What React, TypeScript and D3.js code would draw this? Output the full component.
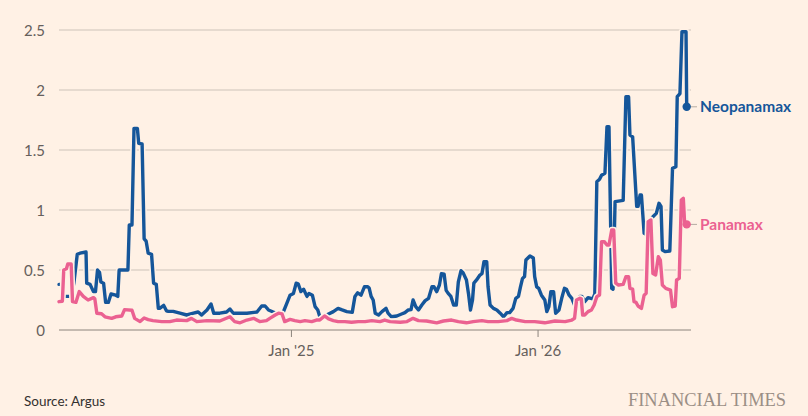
import * as d3 from "d3";

// days counted from the first observation, 23 Jan 2024
const startDate = new Date(2024, 0, 23);
const lastDay = 929;

const neoDays = [
  0, 4, 6, 18, 22, 27, 31, 40, 41, 46, 51, 54, 57, 60, 62, 66, 69, 73, 77, 84,
  87, 89, 102, 104, 108, 111, 116, 118, 123, 126, 129, 132, 137, 140, 144, 147,
  149, 155, 159, 162, 169, 179, 189, 199, 206, 211, 219, 225, 229, 238, 248,
  253, 258, 268, 278, 293, 300, 305, 310, 317, 322, 330, 332, 337, 342, 347,
  351, 354, 358, 362, 367, 370, 375, 379, 383, 386, 392, 399, 406, 413, 419,
  426, 434, 438, 442, 447, 452, 457, 459, 462, 465, 468, 473, 478, 484, 487,
  492, 500, 507, 512, 517, 521, 524, 528, 532, 537, 542, 547, 552, 555, 559,
  563, 566, 570, 573, 576, 580, 584, 588, 591, 595, 598, 603, 606, 609, 612,
  614, 618, 623, 626, 629, 633, 635, 638, 643, 648, 653, 658, 663, 667, 672,
  676, 680, 683, 686, 689, 691, 697, 702, 704, 707, 710, 714, 719, 722, 725,
  728, 732, 735, 740, 744, 748, 751, 755, 759, 763, 767, 771, 774, 778, 783,
  790, 793, 796, 800, 803, 808, 811, 814, 818, 820, 823, 835, 839, 843, 845,
  849, 855, 857, 860, 862, 866, 868, 872, 876, 879, 884, 888, 891, 893, 897,
  904, 908, 913, 915, 919, 922, 928, 929,
];
const neoValues = [
  0.38, 0.38, 0.28, 0.28, 0.39, 0.63, 0.64, 0.65, 0.39, 0.38, 0.32, 0.32, 0.5,
  0.48, 0.4, 0.39, 0.23, 0.23, 0.3, 0.29, 0.28, 0.5, 0.5, 0.875, 0.875, 1.68,
  1.68, 1.555, 1.55, 0.76, 0.74, 0.64, 0.63, 0.39, 0.38, 0.18, 0.18, 0.205,
  0.16, 0.155, 0.155, 0.14, 0.125, 0.14, 0.15, 0.125, 0.167, 0.217, 0.14, 0.14,
  0.15, 0.175, 0.14, 0.14, 0.14, 0.15, 0.2, 0.2, 0.167, 0.15, 0.14, 0.14, 0.15,
  0.22, 0.29, 0.305, 0.39, 0.385, 0.32, 0.34, 0.28, 0.305, 0.29, 0.195, 0.167,
  0.11, 0.11, 0.133, 0.153, 0.18, 0.167, 0.153, 0.147, 0.28, 0.31, 0.29, 0.36,
  0.36, 0.35, 0.28, 0.25, 0.14, 0.125, 0.153, 0.18, 0.14, 0.11, 0.117, 0.133,
  0.145, 0.167, 0.17, 0.25, 0.195, 0.167, 0.208, 0.245, 0.264, 0.36, 0.36, 0.32,
  0.375, 0.47, 0.465, 0.33, 0.305, 0.28, 0.208, 0.208, 0.4, 0.494, 0.478, 0.417,
  0.305, 0.167, 0.25, 0.39, 0.417, 0.458, 0.47, 0.57, 0.57, 0.36, 0.208, 0.18,
  0.167, 0.14, 0.11, 0.145, 0.145, 0.18, 0.264, 0.28, 0.36, 0.43, 0.445, 0.583,
  0.617, 0.6, 0.445, 0.36, 0.347, 0.29, 0.25, 0.153, 0.195, 0.32, 0.32, 0.14,
  0.167, 0.264, 0.347, 0.34, 0.29, 0.264, 0.208, 0.23, 0.28, 0.28, 0.236, 0.27,
  0.26, 0.3, 1.236, 1.256, 1.29, 1.306, 1.694, 1.694, 0.347, 0.34, 1.07, 1.08,
  1.944, 1.944, 1.625, 1.61, 1.03, 1.03, 1.125, 1.125, 0.806, 0.8, 0.85, 0.92,
  0.944, 0.972, 1.056, 1.03, 0.667, 0.653, 0.658, 1.347, 1.36, 1.944, 1.97,
  2.486, 2.486, 1.86,
];

const panDays = [
  0, 5, 7, 11, 13, 18, 20, 25, 30, 36, 43, 51, 53, 56, 63, 68, 78, 84, 93, 97,
  108, 112, 120, 126, 132, 139, 152, 164, 174, 189, 196, 204, 219, 238, 253,
  260, 268, 278, 288, 297, 307, 312, 320, 325, 330, 334, 342, 349, 357, 364,
  374, 381, 386, 393, 399, 406, 413, 423, 433, 443, 453, 463, 475, 482, 490,
  505, 515, 524, 532, 544, 559, 569, 581, 591, 603, 613, 626, 635, 650, 663,
  670, 677, 690, 704, 719, 734, 749, 759, 763, 766, 771, 773, 775, 778, 783,
  788, 792, 796, 800, 803, 807, 811, 814, 818, 821, 824, 828, 835, 839, 843,
  845, 849, 851, 854, 857, 862, 866, 869, 872, 876, 879, 883, 887, 890, 893,
  898, 905, 908, 912, 914, 918, 921, 924, 926, 929,
];
const panValues = [
  0.236, 0.24, 0.5, 0.51, 0.55, 0.55, 0.236, 0.23, 0.32, 0.28, 0.25, 0.27, 0.26,
  0.14, 0.135, 0.11, 0.097, 0.11, 0.117, 0.17, 0.165, 0.097, 0.07, 0.1, 0.086,
  0.078, 0.07, 0.07, 0.083, 0.078, 0.097, 0.07, 0.078, 0.075, 0.11, 0.07, 0.06,
  0.083, 0.097, 0.07, 0.078, 0.097, 0.125, 0.14, 0.135, 0.07, 0.088, 0.078,
  0.07, 0.078, 0.07, 0.083, 0.083, 0.117, 0.092, 0.078, 0.07, 0.07, 0.065,
  0.07, 0.07, 0.078, 0.07, 0.083, 0.07, 0.065, 0.07, 0.097, 0.078, 0.075, 0.06,
  0.075, 0.083, 0.07, 0.06, 0.07, 0.078, 0.07, 0.07, 0.078, 0.097, 0.083, 0.07,
  0.07, 0.06, 0.075, 0.07, 0.083, 0.097, 0.25, 0.264, 0.26, 0.125, 0.125, 0.153,
  0.167, 0.208, 0.278, 0.292, 0.736, 0.736, 0.708, 0.708, 0.833, 0.833, 0.39,
  0.375, 0.38, 0.444, 0.444, 0.347, 0.34, 0.236, 0.23, 0.2, 0.18, 0.29, 0.306,
  0.903, 0.917, 0.47, 0.458, 0.611, 0.583, 0.375, 0.347, 0.333, 0.194, 0.2,
  0.417, 0.43, 1.083, 1.097, 0.883, 0.88,
];

const yTicks = [0, 0.5, 1, 1.5, 2, 2.5];
const xTickDates = [new Date(2025, 0, 1), new Date(2026, 0, 1)];
const xTickLabels = ["Jan '25", "Jan '26"];
const seriesNames = ["Neopanamax", "Panamax"];
const seriesColors = ["#15569a", "#eb6191"];

const W = 808;
const H = 416;
const bg = "#fff1e5";
const font = "Lato, 'Noto Sans', sans-serif";

type Pt = { date: Date; value: number };

const toPoints = (days: number[], values: number[]): Pt[] =>
  days.map((d, i) => ({ date: d3.timeDay.offset(startDate, d), value: values[i] }));

const App = () => {
  const x = d3
    .scaleTime()
    .domain([startDate, d3.timeDay.offset(startDate, lastDay)])
    .range([59, 686.7]);
  const y = d3.scaleLinear().domain([0, 2.5]).range([330, 30]);

  const line = d3
    .line<Pt>()
    .x((d) => x(d.date))
    .y((d) => y(d.value));

  const series = [toPoints(neoDays, neoValues), toPoints(panDays, panValues)];
  const gridRight = 691;

  return (
    <svg
      width={W}
      height={H}
      style={{ position: "fixed", left: 0, top: 0 }}
      fontFamily={font}
    >
      <rect width={W} height={H} fill={bg} />

      {yTicks.map((t) => (
        <g key={t}>
          <line
            x1={59}
            x2={gridRight}
            y1={y(t)}
            y2={y(t)}
            stroke={t === 0 ? "#8c847d" : "#cdc3b9"}
            strokeWidth={1}
          />
          <text
            x={45}
            y={y(t) + 6}
            textAnchor="end"
            fontSize={15}
            fill="#66605c"
          >
            {t}
          </text>
        </g>
      ))}

      {xTickDates.map((d, i) => (
        <g key={i}>
          <line
            x1={x(d)}
            x2={x(d)}
            y1={330}
            y2={337}
            stroke="#8c847d"
          />
          <text
            x={x(d)}
            y={356}
            textAnchor="middle"
            fontSize={15}
            fill="#66605c"
          >
            {xTickLabels[i]}
          </text>
        </g>
      ))}

      {series.map((pts, i) => (
        <g key={i}>
          <path
            d={line(pts) || ""}
            fill="none"
            stroke={bg}
            strokeWidth={6.5}
            strokeLinejoin="round"
            strokeLinecap="round"
          />
          <path
            d={line(pts) || ""}
            fill="none"
            stroke={seriesColors[i]}
            strokeWidth={3.4}
            strokeLinejoin="round"
            strokeLinecap="round"
          />
        </g>
      ))}

      {series.map((pts, i) => {
        const last = pts[pts.length - 1];
        const cx = x(last.date);
        const cy = y(last.value);
        return (
          <g key={i}>
            <line x1={cx} x2={697} y1={cy} y2={cy} stroke="#b5aba2" />
            <circle cx={cx} cy={cy} r={4.2} fill={seriesColors[i]} />
            <text
              x={700}
              y={cy + 5.5}
              fontSize={15.5}
              fontWeight={700}
              fill={seriesColors[i]}
            >
              {seriesNames[i]}
            </text>
          </g>
        );
      })}

      <text x={24} y={406} fontSize={13.5} fill="#33302e">
        Source: Argus
      </text>
      <text
        x={628}
        y={406}
        fontFamily="'Liberation Serif', serif"
        fontSize={19}
        fill="#9b8f86"
        textLength={158}
        lengthAdjust="spacingAndGlyphs"
      >
        FINANCIAL TIMES
      </text>
    </svg>
  );
};

export default App;
